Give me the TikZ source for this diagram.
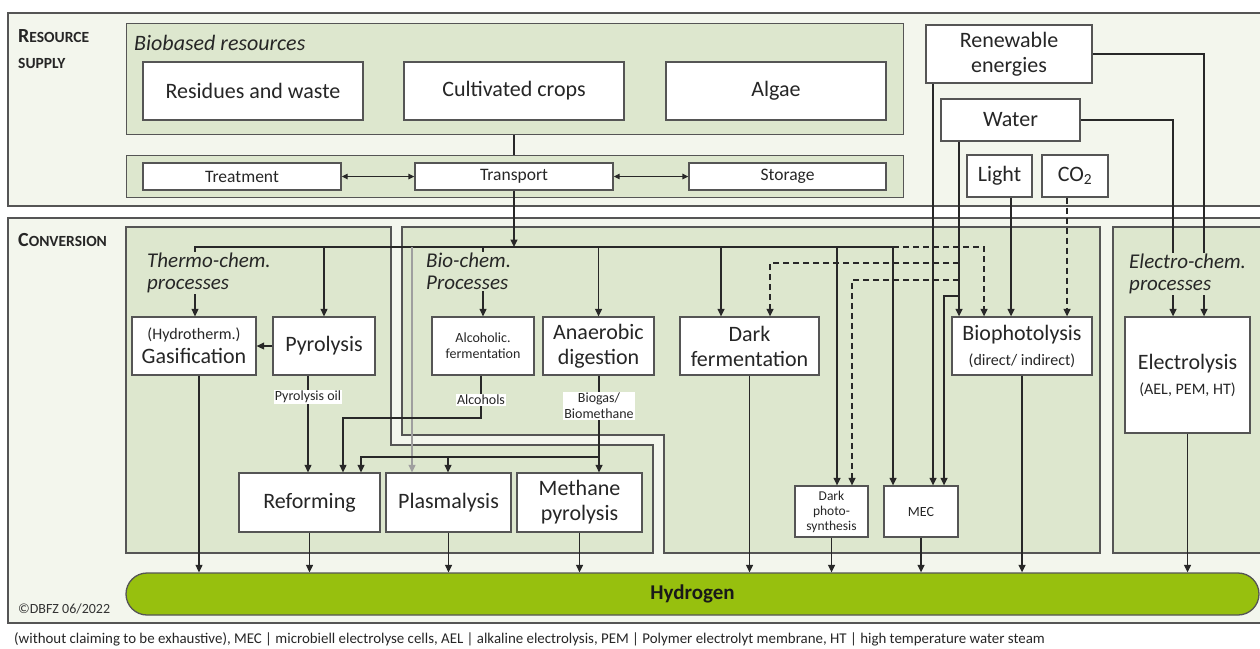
\documentclass[tikz,border=0pt]{standalone}
\usepackage{fontspec}
\setmainfont{Carlito}
\usetikzlibrary{arrows.meta}
\definecolor{outerfill}{RGB}{243,246,237}
\definecolor{grn}{RGB}{221,231,206}
\definecolor{bord}{RGB}{85,85,85}
\definecolor{hyd}{RGB}{151,192,14}
\definecolor{lnk}{RGB}{40,40,40}
\newcommand\szBig{\fontsize{22}{25}\selectfont}
\newcommand\szMid{\fontsize{17.5}{20}\selectfont}
\newcommand\szPar{\fontsize{16}{19}\selectfont}
\newcommand\szSm{\fontsize{14}{16}\selectfont}
\begin{document}
\begin{tikzpicture}[x=1pt,y=-1pt,
  outerbox/.style={draw=bord, line width=1.3pt, fill=outerfill},
  grnbox/.style={draw=bord, line width=1.3pt, fill=grn},
  wbox/.style={draw=bord, line width=1.3pt, fill=white, inner sep=1pt, align=center, text=black!85},
  conn/.style={draw=lnk, line width=1.3pt},
  arr/.style={conn, -{Triangle[length=7.5pt,width=7pt]}},
  darr/.style={conn, {Triangle[length=6pt,width=5.5pt]}-{Triangle[length=6pt,width=5.5pt]}},
  dsh/.style={arr, dash pattern=on 6pt off 4pt},
  lbl/.style={fill=white, inner sep=1pt, align=center, font=\szSm, text=black!85},
  hdr/.style={fill=grn, inner sep=1pt, anchor=north west, align=left, font=\fontsize{21}{22}\selectfont\itshape, text=black!85},
]
\fill[white] (0,0) rectangle (1260,648);
\useasboundingbox (0,0) rectangle (1260,648);
% outer frames
\draw[outerbox] (8,13) rectangle (1268,206);
\draw[outerbox] (8,218) rectangle (1268,623);
\node[anchor=base west, inner sep=0, font=\bfseries, text=black!85] (lrs1) at (18,42) {{\fontsize{20}{20}\selectfont R}{\fontsize{15.5}{16}\selectfont ESOURCE}};
\node[anchor=base west, inner sep=0, font=\bfseries, text=black!85] (lrs2) at (18,68) {\fontsize{15.5}{16}\selectfont SUPPLY};
\node[anchor=base west, inner sep=0, font=\bfseries, text=black!85] (lconv) at (18,246) {{\fontsize{20}{20}\selectfont C}{\fontsize{15.5}{16}\selectfont ONVERSION}};
% resource supply
\node[grnbox, anchor=north west, minimum width=777pt, minimum height=111pt, inner sep=0] (bbr) at (126,23) {};
\node[anchor=base west, inner sep=0, font=\szBig\itshape, text=black!85] (bbrl) at (134,50) {Biobased resources};
\node[wbox, minimum width=220pt, minimum height=58pt, font=\szBig] (res) at (253,91) {Residues and waste};
\node[wbox, minimum width=220pt, minimum height=58pt, font=\szBig] (crop) at (514,91) {Cultivated crops};
\node[wbox, minimum width=220pt, minimum height=58pt, font=\szBig] (alg) at (776,91) {Algae};
\node[grnbox, anchor=north west, minimum width=777pt, minimum height=42pt, inner sep=0] (tts) at (126,155) {};
\node[wbox, minimum width=198pt, minimum height=27pt, font=\szMid] (trt) at (242,176.5) {Treatment};
\node[wbox, minimum width=198pt, minimum height=27pt, font=\szMid] (transp) at (514,176.5) {Transport};
\node[wbox, minimum width=197pt, minimum height=27pt, font=\szMid] (stor) at (787.5,176.5) {Storage};
\node[wbox, minimum width=166pt, minimum height=58pt, font=\fontsize{22}{25}\selectfont] (ren) at (1009,54) {Renewable\\energies};
\node[wbox, minimum width=139pt, minimum height=42pt, font=\szBig] (wat) at (1010.5,120) {Water};
\node[wbox, minimum width=65pt, minimum height=42pt, font=\szBig] (light) at (999.5,176) {Light};
\node[wbox, minimum width=66pt, minimum height=42pt, font=\szBig] (co2) at (1075,176) {CO\textsubscript{2}};
% conversion containers
\draw[grnbox] (126,227) -- (391,227) -- (391,445) -- (653,445) -- (653,553) -- (126,553) -- cycle;
\draw[grnbox] (402,227) -- (1100,227) -- (1100,553) -- (664,553) -- (664,435) -- (402,435) -- cycle;
\draw[grnbox] (1113,227) rectangle (1268,553);
% processes
\node[wbox, minimum width=124pt, minimum height=58pt, font=\szBig] (gas) at (194,346) {{\szPar (Hydrotherm.)}\\[-1pt]Gasification};
\node[wbox, minimum width=102pt, minimum height=58pt, font=\szBig] (pyro) at (324,346) {Pyrolysis};
\node[wbox, minimum width=102pt, minimum height=58pt, font=\szSm] (alc) at (483,346) {Alcoholic.\\fermentation};
\node[wbox, minimum width=111pt, minimum height=58pt, font=\szBig] (ana) at (598.5,346) {Anaerobic\\digestion};
\node[wbox, minimum width=139pt, minimum height=58pt, font=\szBig] (df) at (749.5,346) {Dark\\fermentation};
\node[wbox, minimum width=140pt, minimum height=58pt, font=\szBig] (bph) at (1022,346) {Biophotolysis\\{\szPar (direct/ indirect)}};
\node[wbox, minimum width=125pt, minimum height=116pt, font=\szBig] (elec) at (1187.5,375) {Electrolysis\\{\szPar (AEL, PEM, HT)}};
\node[wbox, minimum width=141pt, minimum height=59pt, font=\szBig] (ref) at (309.5,502.5) {Reforming};
\node[wbox, minimum width=125pt, minimum height=59pt, font=\szBig] (plas) at (448.5,502.5) {Plasmalysis};
\node[wbox, minimum width=125pt, minimum height=59pt, font=\szBig] (meth) at (579.5,502.5) {Methane\\pyrolysis};
\node[wbox, minimum width=73pt, minimum height=51pt, font=\fontsize{13.5}{15}\selectfont] (dps) at (831.5,511.5) {Dark\\photo-\\synthesis};
\node[wbox, minimum width=74pt, minimum height=51pt, font=\szSm] (mec) at (921,511.5) {MEC};
\node[draw=bord, line width=1.3pt, fill=hyd, rounded corners=21pt, minimum width=1133pt, minimum height=42pt, font=\fontsize{21}{24}\selectfont\bfseries, text=black!90] (h2) at (692.5,594) {Hydrogen};
% connectors: supply
\coordinate (bus) at (0,247);
\draw[conn] (bbr.south -| transp) -- (tts.north -| transp);
\draw[darr] (trt.east) -- (transp.west);
\draw[darr] (transp.east) -- (stor.west);
\draw[arr] (transp.south) -- (transp.south |- bus);
% bus
\draw[arr] (893,247) -- (195,247) -- (195,0 |- gas.north);
\draw[arr] (893,247) -- (893,0 |- mec.north);
\draw[arr] (pyro.north |- bus) -- (pyro.north);
\draw[arr, draw=gray!75] (412,247) -- (412,0 |- plas.north);
\draw[arr] (alc.north |- bus) -- (alc.north);
\draw[arr] (ana.north |- bus) -- (ana.north);
\draw[arr] (721,247) -- (721,0 |- df.north);
\draw[arr] (837,247) -- (837,0 |- dps.north);
\draw[dsh] (893,247) -- (984,247) -- (984,0 |- bph.north);
% water, energy, light, co2
\draw[arr] (959,0 |- wat.south) -- (959,0 |- bph.north);
\draw[dsh] (959,263) -- (770,263) -- (770,0 |- df.north);
\draw[dsh] (959,280) -- (852,280) -- (852,0 |- dps.north);
\draw[arr] (959,296) -- (944,296) -- (944,0 |- mec.north);
\draw[arr] (wat.east) -- (1173,120) -- (1173,0 |- elec.north);
\draw[arr] (933,0 |- ren.south) -- (933,0 |- mec.north);
\draw[arr] (ren.east) -- (1204,54) -- (1204,0 |- elec.north);
\draw[arr] (1011,0 |- light.south) -- (1011,0 |- bph.north);
\draw[dsh] (1067,0 |- co2.south) -- (1067,0 |- bph.north);
% internal conversion
\draw[arr] (pyro.west) -- (gas.east);
\draw[arr] (308,0 |- pyro.south) -- (308,0 |- ref.north);
\draw[arr] (481,0 |- alc.south) -- (481,418) -- (343,418) -- (343,0 |- ref.north);
\draw[arr] (599,0 |- ana.south) -- (599,0 |- meth.north);
\draw[arr] (599,457) -- (361,457) -- (361,0 |- ref.north);
\draw[arr] (448,457) -- (448,0 |- plas.north);
\node[lbl] (poil) at (308,397) {Pyrolysis oil};
\node[lbl] (alco) at (481,400) {Alcohols};
\node[lbl] (biog) at (599,406) {Biogas/\\Biomethane};
% outputs to hydrogen
\draw[arr] (199,0 |- gas.south) -- (199,0 |- h2.north);
\foreach \n in {ref,plas,meth,df,dps,mec,bph,elec} \draw[arr] (\n.south) -- (\n.south |- h2.north);
% headers over lines
\node[hdr] (thl) at (146,252) {Thermo-chem.\\processes};
\node[hdr] (bil) at (425,252) {Bio-chem.\\Processes};
\node[hdr] (ell) at (1128,253) {Electro-chem.\\processes};
% footer
\node[anchor=base west, inner sep=0, font=\fontsize{14}{16}\selectfont, text=black!80] (copy) at (18,613) {©DBFZ 06/2022};
\node[anchor=base west, inner sep=0, font=\fontsize{14.9}{16}\selectfont, text=black!85] (cap) at (14,643) {(without claiming to be exhaustive), MEC | microbiell electrolyse cells, AEL | alkaline electrolysis, PEM | Polymer electrolyt membrane, HT | high temperature water steam};
\end{tikzpicture}
\end{document}
